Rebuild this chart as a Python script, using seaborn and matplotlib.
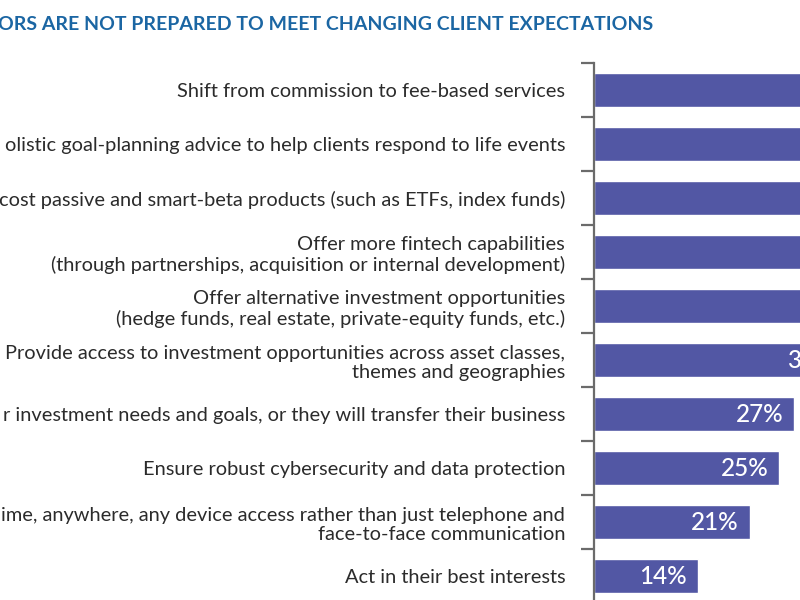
import matplotlib
matplotlib.use("Agg")
import matplotlib.pyplot as plt
import seaborn as sns
import pandas as pd
import numpy as np

title = "ORS ARE NOT PREPARED TO MEET CHANGING CLIENT EXPECTATIONS"
categories = [
    "Shift from commission to fee-based services",
    "olistic goal-planning advice to help clients respond to life events",
    "cost passive and smart-beta products (such as ETFs, index funds)",
    "Offer more fintech capabilities\n(through partnerships, acquisition or internal development)",
    "Offer alternative investment opportunities\n(hedge funds, real estate, private-equity funds, etc.)",
    "Provide access to investment opportunities across asset classes,\nthemes and geographies",
    "r investment needs and goals, or they will transfer their business",
    "Ensure robust cybersecurity and data protection",
    "ime, anywhere, any device access rather than just telephone and\nface-to-face communication",
    "Act in their best interests",
]
values = [49, 45, 41, 38, 36, 34, 27, 25, 21, 14]

df = pd.DataFrame({"category": categories, "value": values})

sns.set_theme(style="white")
plt.rcParams["font.family"] = ["Lato", "DejaVu Sans"]

fig = plt.figure(figsize=(8, 6), dpi=100)
ax = fig.add_axes([0.743, -0.005, 0.45, 0.9])

sns.barplot(data=df, x="value", y="category", color="#5257A4", saturation=1,
            width=0.63, ax=ax, orient="h")

ax.set_xlim(0, 0.45 * 800 / 7.4)
ax.set_ylim(len(categories) - 0.5, -0.5)

for p, v in zip(ax.patches, values):
    ax.annotate(f"{v}%", (p.get_width(), p.get_y() + p.get_height() / 2),
                xytext=(-8, 0), textcoords="offset points", ha="right", va="center",
                color="white", fontsize=17.5, fontweight="medium")

ax.set_xlabel("")
ax.set_ylabel("")
ax.set_xticks([])
ax.set_yticks(np.arange(len(categories)))
ax.set_yticklabels(categories, fontsize=14.4, color="#2b2b2b", linespacing=1.2)
ax.set_yticks(np.arange(len(categories) + 1) - 0.5, minor=True)
ax.tick_params(axis="y", which="major", length=0, pad=21)
ax.tick_params(axis="y", which="minor", length=9.5, width=1.6, color="#6b6b6b", left=True)

for s in ["top", "right", "bottom"]:
    ax.spines[s].set_visible(False)
ax.spines["left"].set_color("#6b6b6b")
ax.spines["left"].set_linewidth(1.6)

fig.text(-0.003, 0.96, title, ha="left", va="center", fontsize=14, fontweight="bold",
         color="#1B66A3")

fig.savefig("out.png", dpi=100)
